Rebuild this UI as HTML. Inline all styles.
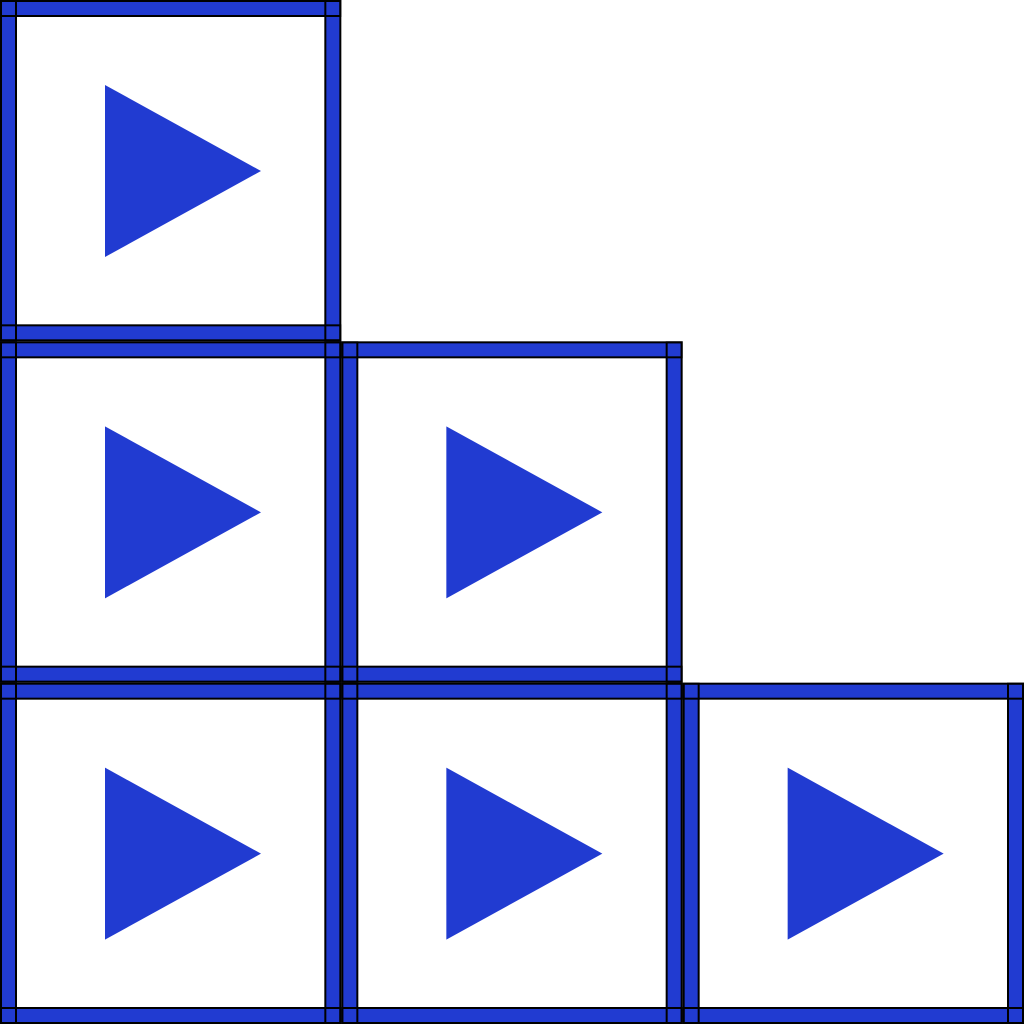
<!DOCTYPE html>
<html><head><meta charset="utf-8"><style>html,body{margin:0;padding:0;background:#fff}svg{display:block}</style></head>
<body>
<svg id="c" width="1024" height="1024" viewBox="0 0 1024 1024" xmlns="http://www.w3.org/2000/svg"></svg>
<script>
const tileRows = [0, 1, 1, 2, 2, 2];
const tileCols = [0, 0, 1, 0, 1, 2];
const S = 1024 / 3, B = 17, BLUE = '#213bd1';
const svg = document.getElementById('c');
const ns = 'http://www.w3.org/2000/svg';
function mk(tag, attrs) { const e = document.createElementNS(ns, tag); for (const k in attrs) e.setAttribute(k, attrs[k]); return e; }
tileRows.forEach((r, i) => {
  const x = tileCols[i] * S, y = r * S;
  const g = mk('g', {});
  
  
  const bars = [[x, y, S, B], [x, y + S - B, S, B], [x, y, B, S], [x + S - B, y, B, S]];
  bars.forEach(b => {
    const rc = mk('rect', {x: b[0] + 1, y: b[1] + 1, width: b[2] - 2, height: b[3] - 2, fill: BLUE});
    
    
    g.appendChild(rc);
  });
  bars.forEach(b => {
    const rc = mk('rect', {x: b[0] + 1, y: b[1] + 1, width: b[2] - 2, height: b[3] - 2, fill: 'none', stroke: '#000', 'stroke-width': 2});
    
    
    g.appendChild(rc);
  });
  const tri = mk('polygon', {points: `${x+105},${y+85} ${x+261},${y+171} ${x+105},${y+257}`, fill: BLUE});
  
  
  g.appendChild(tri);
  svg.appendChild(g);
});
</script>
</body></html>
